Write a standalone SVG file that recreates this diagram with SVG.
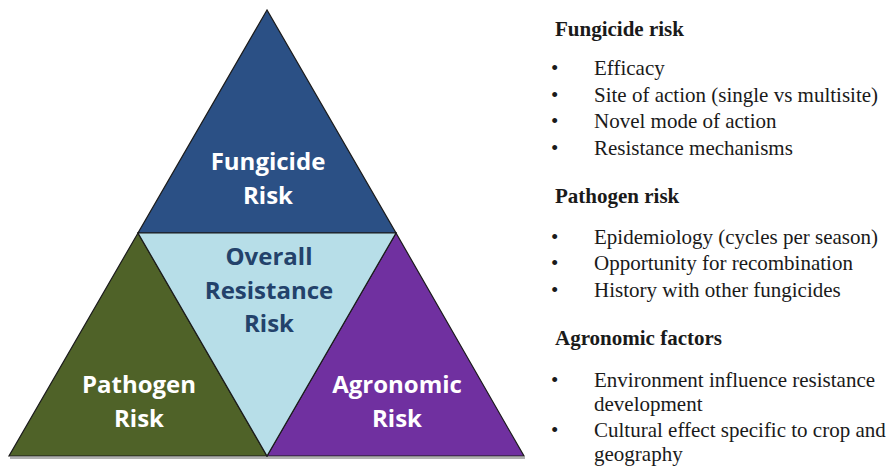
<svg xmlns="http://www.w3.org/2000/svg" width="890" height="468" viewBox="0 0 890 468">
<style>
.tri{stroke:#1b1b1b;stroke-width:1.2;stroke-linejoin:miter}
.lbl{font-family:"Open Sans","Liberation Sans",sans-serif;font-weight:bold;font-size:24px;text-anchor:middle}
.w{fill:#ffffff}
.d{fill:#23426B}
.h{font-family:"Liberation Serif","Times New Roman",serif;font-weight:bold;font-size:21px;fill:#1a1a1a}
.t{font-family:"Liberation Serif","Times New Roman",serif;font-size:21px;fill:#1a1a1a}
</style>
<rect width="890" height="468" fill="#ffffff"/>
<line x1="10" y1="458" x2="525" y2="458" stroke="#b0b0b0" stroke-width="2"/>
<g id="fungicide-risk">
<polygon class="tri" points="267,10 138,233 396,233" fill="#2B5085"/>
<text class="lbl w" x="268" y="170">Fungicide</text>
<text class="lbl w" x="268" y="204">Risk</text>
</g>
<g id="pathogen-risk">
<polygon class="tri" points="138,233 9,456 267,456" fill="#4F6228"/>
<text class="lbl w" x="139" y="393">Pathogen</text>
<text class="lbl w" x="139" y="427">Risk</text>
</g>
<g id="agronomic-risk">
<polygon class="tri" points="396,233 267,456 524,456" fill="#7030A0"/>
<text class="lbl w" x="397" y="393">Agronomic</text>
<text class="lbl w" x="397" y="427">Risk</text>
</g>
<g id="overall-resistance-risk">
<polygon class="tri" points="138,233 396,233 267,456" fill="#B7DEE8"/>
<text class="lbl d" x="269" y="265">Overall</text>
<text class="lbl d" x="269" y="299">Resistance</text>
<text class="lbl d" x="269" y="332">Risk</text>
</g>
<g id="legend">
<text class="h" x="555" y="36">Fungicide risk</text>
<text class="t" x="551" y="75">•</text><text class="t" x="594" y="75">Efficacy</text>
<text class="t" x="551" y="101.7">•</text><text class="t" x="594" y="101.7">Site of action (single vs multisite)</text>
<text class="t" x="551" y="128.4">•</text><text class="t" x="594" y="128.4">Novel mode of action</text>
<text class="t" x="551" y="155">•</text><text class="t" x="594" y="155">Resistance mechanisms</text>
<text class="h" x="555" y="203">Pathogen risk</text>
<text class="t" x="551" y="243.5">•</text><text class="t" x="594" y="243.5">Epidemiology (cycles per season)</text>
<text class="t" x="551" y="270">•</text><text class="t" x="594" y="270">Opportunity for recombination</text>
<text class="t" x="551" y="297">•</text><text class="t" x="594" y="297">History with other fungicides</text>
<text class="h" x="555" y="345">Agronomic factors</text>
<text class="t" x="551" y="387">•</text><text class="t" x="594" y="387">Environment influence resistance</text>
<text class="t" x="594" y="411">development</text>
<text class="t" x="551" y="437">•</text><text class="t" x="594" y="437">Cultural effect specific to crop and</text>
<text class="t" x="594" y="461">geography</text>
</g>
</svg>
